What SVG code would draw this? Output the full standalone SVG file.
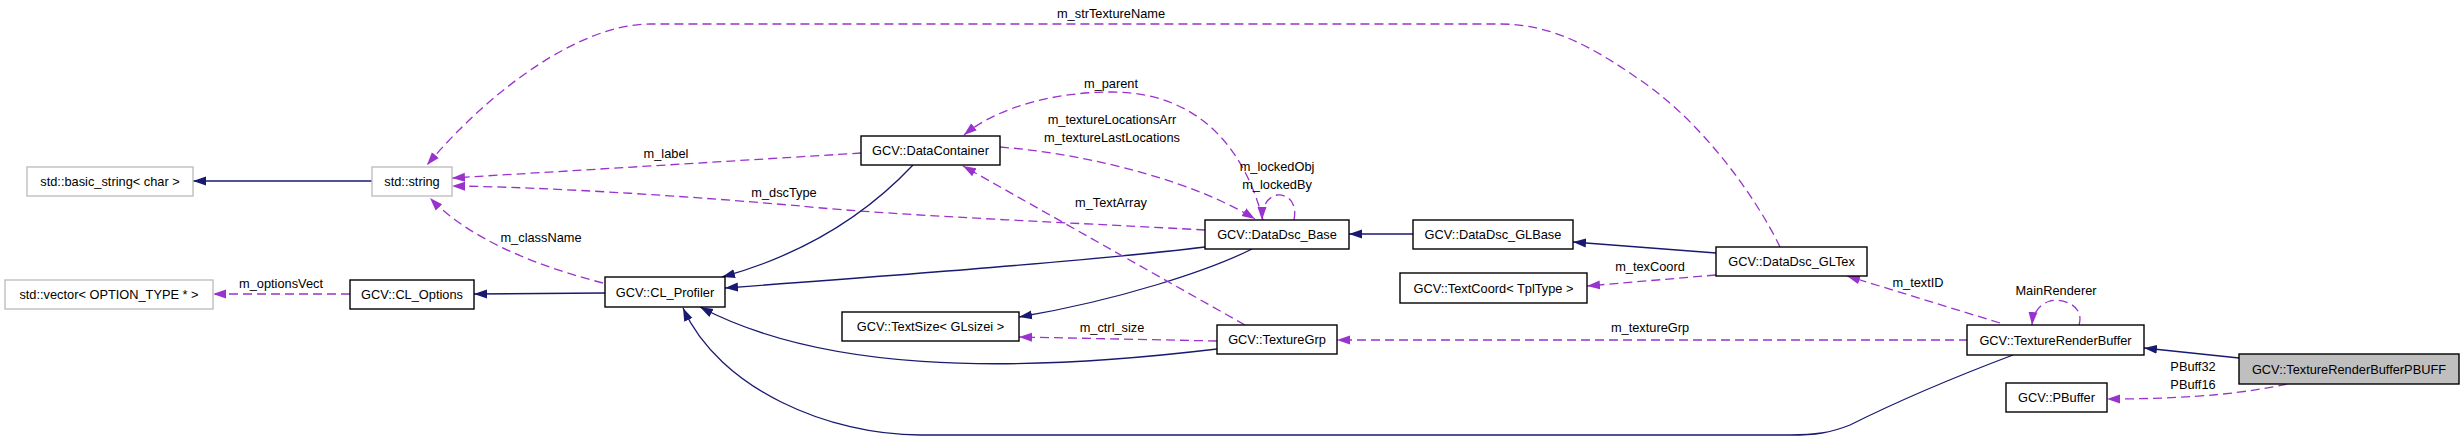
<svg xmlns="http://www.w3.org/2000/svg" width="2464" height="440" viewBox="0 0 2464 440">
<style>
text{font-family:"Liberation Sans",Arial,sans-serif;font-size:12.8px;fill:#000}
.n text{text-anchor:middle}
.box{fill:#fff;stroke:#000;stroke-width:1.4}
.ext{fill:#fff;stroke:#bfbfbf;stroke-width:1.4}
.cur{fill:#bfbfbf;stroke:#000;stroke-width:1.4}
.inh{fill:none;stroke:#191970;stroke-width:1.3;marker-end:url(#ai)}
.use{fill:none;stroke:#9a32cd;stroke-width:1.3;stroke-dasharray:9,5;marker-end:url(#au)}
.lbl{text-anchor:middle}
</style>
<defs>
<marker id="ai" markerUnits="userSpaceOnUse" markerWidth="14" markerHeight="10" refX="13" refY="5" orient="auto"><path d="M0,0.5 L13,5 L0,9.5 z" fill="#191970"/></marker>
<marker id="au" markerUnits="userSpaceOnUse" markerWidth="14" markerHeight="10" refX="13" refY="5" orient="auto"><path d="M0,0.5 L13,5 L0,9.5 z" fill="#9a32cd"/></marker>
</defs>
<rect width="2464" height="440" fill="#fff"/>
<g id="edges">
<path class="inh" d="M372,181 L193,181"/>
<path class="use" d="M350,294 L213,294"/>
<path class="inh" d="M605,293 L474,294"/>
<path class="use" d="M603,283 C540,267 470,240 430,198"/>
<path class="use" d="M861,153 C750,160 550,172 452,178"/>
<path class="use" d="M1205,230 C1100,224 900,216 800,206 C700,197 550,187 452,186"/>
<path class="use" d="M1780,247 C1755,195 1700,120 1640,80 C1590,45 1550,24 1500,24 L650,24 C580,24 490,90 427,165"/>
<path class="inh" d="M913,165 C880,200 820,250 722,277"/>
<path class="inh" d="M1205,247 C1100,260 900,275 725,288"/>
<path class="inh" d="M1252,249 C1210,270 1120,300 1019,317"/>
<path class="inh" d="M1217,349 C1000,375 820,370 700,307"/>
<path class="inh" d="M2013,355 C1960,375 1900,400 1850,425 C1830,433 1815,435 1790,435 L920,435 C830,435 720,390 683,308"/>
<path class="use" d="M1245,325 L963,166"/>
<path class="use" d="M1217,341 L1019,337"/>
<path class="use" d="M1968,340 L1337,340"/>
<path class="inh" d="M1413,234 L1349,234"/>
<path class="inh" d="M1716,253 L1573,242"/>
<path class="use" d="M1716,275 L1587,286"/>
<path class="use" d="M2000,323 L1847,276"/>
<path class="use" d="M2079,325 C2085,305 2062,298 2050,301 C2040,304 2033,312 2032,325"/>
<path class="inh" d="M2239,358 L2144,348"/>
<path class="use" d="M2287,384 C2250,392 2200,399 2107,399"/>
<path class="use" d="M1263,220 C1245,150 1200,92 1111,92 C1060,92 1000,105 964,135"/>
<path class="use" d="M1000,147 C1100,155 1200,185 1255,219"/>
<path class="use" d="M1294,220 C1298,200 1285,194 1277,195 C1268,197 1262,205 1262,220"/>
<text class="lbl" x="281" y="288">m_optionsVect</text>
<text class="lbl" x="541" y="242">m_className</text>
<text class="lbl" x="666" y="158">m_label</text>
<text class="lbl" x="784" y="197">m_dscType</text>
<text class="lbl" x="1111" y="18">m_strTextureName</text>
<text class="lbl" x="1111" y="88">m_parent</text>
<text class="lbl" x="1112" y="124">m_textureLocationsArr</text>
<text class="lbl" x="1112" y="142">m_textureLastLocations</text>
<text class="lbl" x="1277" y="171">m_lockedObj</text>
<text class="lbl" x="1277" y="189">m_lockedBy</text>
<text class="lbl" x="1111" y="207">m_TextArray</text>
<text class="lbl" x="1112" y="332">m_ctrl_size</text>
<text class="lbl" x="1650" y="271">m_texCoord</text>
<text class="lbl" x="1650" y="332">m_textureGrp</text>
<text class="lbl" x="1918" y="287">m_textID</text>
<text class="lbl" x="2056" y="295">MainRenderer</text>
<text class="lbl" x="2193" y="371">PBuff32</text>
<text class="lbl" x="2193" y="389">PBuff16</text>
</g>
<g id="n_basic_string" class="n"><rect class="ext" x="27" y="167" width="166" height="29"/><text x="110" y="186">std::basic_string&lt; char &gt;</text></g>
<g id="n_string" class="n"><rect class="ext" x="372" y="167" width="80" height="29"/><text x="412" y="186">std::string</text></g>
<g id="n_vector" class="n"><rect class="ext" x="5" y="280" width="208" height="29"/><text x="109" y="299">std::vector&lt; OPTION_TYPE * &gt;</text></g>
<g id="n_CL_Options" class="n"><rect class="box" x="350" y="280" width="124" height="29"/><text x="412" y="299">GCV::CL_Options</text></g>
<g id="n_CL_Profiler" class="n"><rect class="box" x="605" y="277" width="120" height="30"/><text x="665" y="296.5">GCV::CL_Profiler</text></g>
<g id="n_DataContainer" class="n"><rect class="box" x="861" y="136" width="139" height="29"/><text x="930.5" y="155">GCV::DataContainer</text></g>
<g id="n_DataDsc_Base" class="n"><rect class="box" x="1205" y="220" width="144" height="29"/><text x="1277" y="239">GCV::DataDsc_Base</text></g>
<g id="n_DataDsc_GLBase" class="n"><rect class="box" x="1413" y="220" width="160" height="29"/><text x="1493" y="239">GCV::DataDsc_GLBase</text></g>
<g id="n_TextSize" class="n"><rect class="box" x="842" y="312" width="177" height="29"/><text x="930.5" y="331">GCV::TextSize&lt; GLsizei &gt;</text></g>
<g id="n_TextureGrp" class="n"><rect class="box" x="1217" y="325" width="120" height="29"/><text x="1277" y="344">GCV::TextureGrp</text></g>
<g id="n_TextCoord" class="n"><rect class="box" x="1400" y="273" width="187" height="30"/><text x="1493.5" y="292.5">GCV::TextCoord&lt; TplType &gt;</text></g>
<g id="n_DataDsc_GLTex" class="n"><rect class="box" x="1716" y="247" width="151" height="29"/><text x="1791.5" y="266">GCV::DataDsc_GLTex</text></g>
<g id="n_TextureRenderBuffer" class="n"><rect class="box" x="1967" y="325" width="177" height="30"/><text x="2055.5" y="344.5">GCV::TextureRenderBuffer</text></g>
<g id="n_TextureRenderBufferPBUFF" class="n"><rect class="cur" x="2239" y="354" width="220" height="30"/><text x="2349" y="373.5">GCV::TextureRenderBufferPBUFF</text></g>
<g id="n_PBuffer" class="n"><rect class="box" x="2006" y="383" width="101" height="29"/><text x="2056.5" y="402">GCV::PBuffer</text></g>
</svg>
